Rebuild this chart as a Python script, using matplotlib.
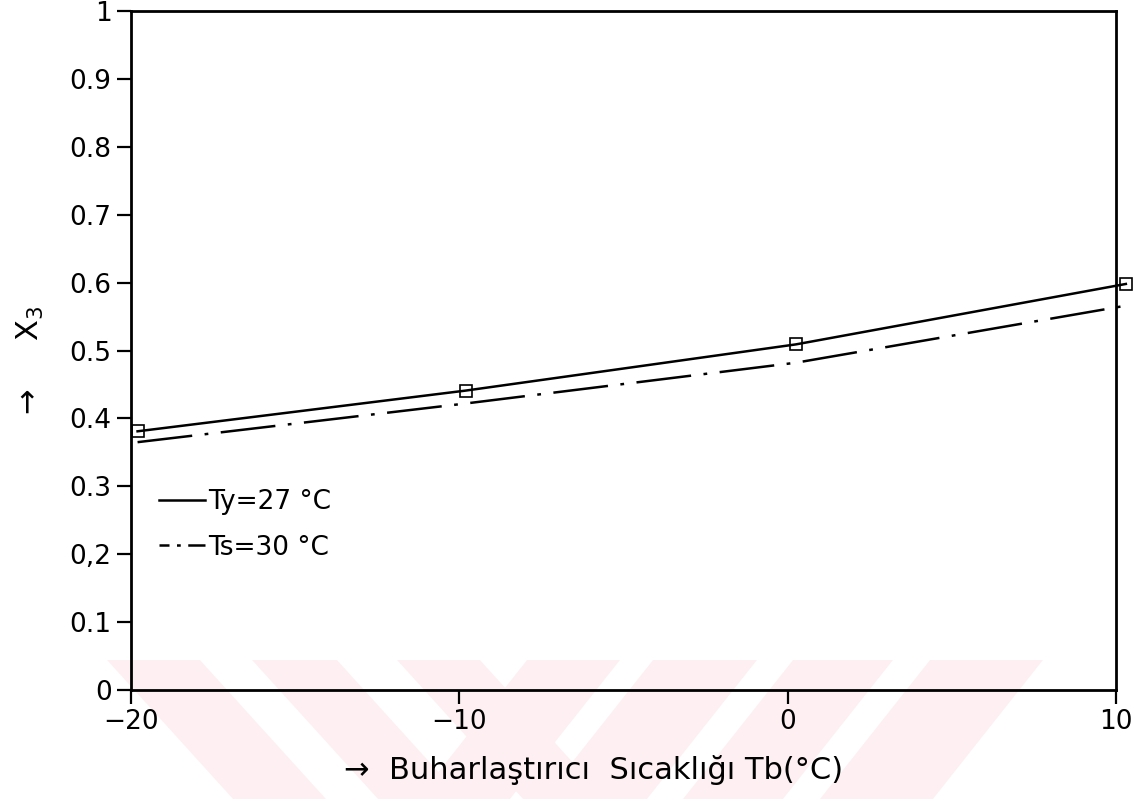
import matplotlib
matplotlib.use('Agg')
import matplotlib.pyplot as plt
from matplotlib.patches import Polygon

# veriler (okunan degerler)
tb_ty = [-19.8, -9.8, 0.25, 10.3]
x3_ty = [0.381, 0.441, 0.509, 0.598]
tb_ts = [-19.8, -9.8, 0.25, 10.3]
x3_ts = [0.365, 0.422, 0.482, 0.566]

yticks = [0, 0.1, 0.2, 0.3, 0.4, 0.5, 0.6, 0.7, 0.8, 0.9, 1.0]
ytick_labels = ['0', '0.1', '0,2', '0.3', '0.4', '0.5', '0.6', '0.7', '0.8', '0.9', '1']
xticks = [-20, -10, 0, 10]
xtick_labels = ['\u221220', '\u221210', '0', '10']

W, H = 1139, 799
fig = plt.figure(figsize=(W / 100, H / 100), dpi=100)
fig.patch.set_facecolor('white')

# filigran (pembe seritler)
pink = '#fef0f2'
def band(x_top0, x_top1, dx):
    pts = [(x_top0, 660), (x_top1, 660), (x_top1 + dx, 799), (x_top0 + dx, 799)]
    return [(px / W, 1 - py / H) for px, py in pts]

for x0, x1 in [(107, 200), (252, 337), (397, 480)]:
    fig.patches.append(Polygon(band(x0, x1, 126), closed=True, transform=fig.transFigure,
                               facecolor=pink, edgecolor='none', zorder=-5))
for x0, x1 in [(527, 620), (653, 757), (793, 893), (930, 1043)]:
    fig.patches.append(Polygon(band(x0, x1, -110), closed=True, transform=fig.transFigure,
                               facecolor=pink, edgecolor='none', zorder=-5))

ax = fig.add_axes([131 / W, 1 - 690 / H, (1116 - 131) / W, (690 - 11) / H])
ax.set_zorder(2)
ax.patch.set_alpha(0)

ax.plot(tb_ty, x3_ty, color='black', lw=1.8, marker='s', ms=9, mfc='none', mew=1.2,
        label='Ty=27 \u00b0C', clip_on=False)
ax.plot(tb_ts, x3_ts, color='black', lw=1.8, linestyle=(0, (22, 5, 1.5, 5)),
        label='Ts=30 \u00b0C', clip_on=False)

ax.set_xlim(-20, 10)
ax.set_ylim(0, 1)
ax.set_xticks(xticks)
ax.set_xticklabels(xtick_labels)
ax.set_yticks(yticks)
ax.set_yticklabels(ytick_labels)
ax.tick_params(direction='out', length=10, width=1.6, labelsize=19, pad=4)
for sp in ax.spines.values():
    sp.set_linewidth(2)

leg = ax.legend(loc='lower left', bbox_to_anchor=(0.018, 0.175), frameon=False,
                fontsize=19, handlelength=1.75, handletextpad=0.1, labelspacing=0.75,
                borderaxespad=0)
for h in leg.legend_handles:
    h.set_marker('')
# kisa tutamakta cizgi-nokta gorunsun
leg.legend_handles[1].set_linestyle((0, (4, 3, 1.5, 3, 30, 1)))

fig.text(594 / W, 1 - 770 / H, '\u2192  Buharla\u015ft\u0131r\u0131c\u0131  S\u0131cakl\u0131\u011f\u0131 Tb(\u00b0C)',
         fontsize=22, ha='center', va='center')
fig.text(30 / W, 1 - 360 / H, '\u2192     X$_3$', fontsize=22, rotation=90,
         ha='center', va='center')

fig.savefig('out.png', dpi=100)
